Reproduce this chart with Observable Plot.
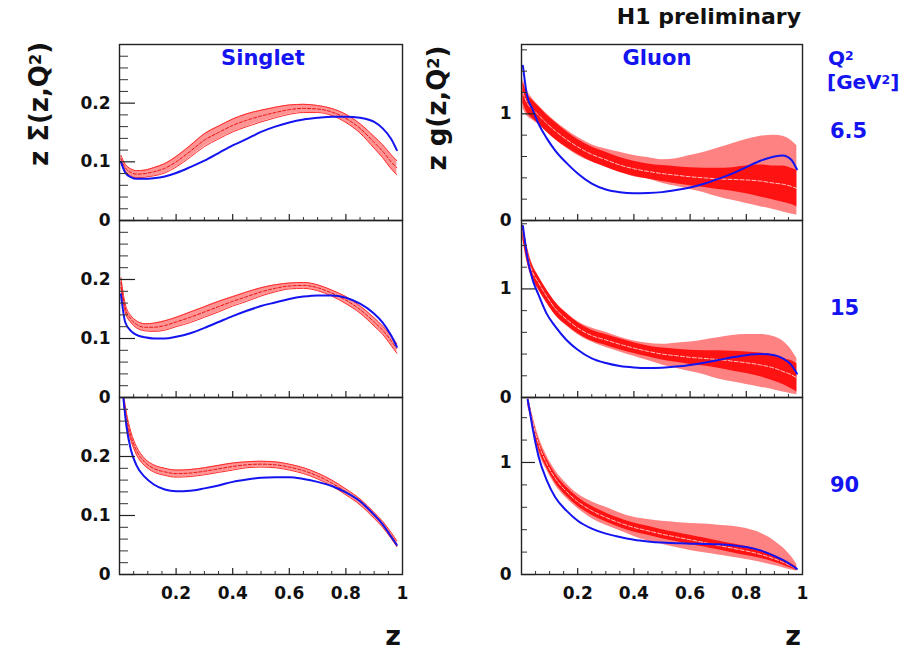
<!DOCTYPE html>
<html><head><meta charset="utf-8">
<script src="https://cdn.jsdelivr.net/npm/d3@7"></script>
<script src="https://cdn.jsdelivr.net/npm/@observablehq/plot@0.6"></script>
<style>
html,body{margin:0;padding:0;background:#fff;}
#wrap{position:relative;width:908px;height:651px;overflow:hidden;font-family:"DejaVu Sans",sans-serif;font-weight:bold;color:#111;}
.t{position:absolute;white-space:nowrap;line-height:1;}
.blue{color:#1414f0;}
.sup{font-size:0.62em;position:relative;top:-0.42em;line-height:0;}
</style></head><body><div id="wrap"></div>
<script>
// ---------- data ----------
const zGrid = [0.005,0.02,0.04,0.06,0.09,0.12,0.16,0.20,0.25,0.30,0.35,0.40,0.45,0.50,0.55,0.60,0.65,0.70,0.75,0.80,0.85,0.90,0.93,0.96,0.98];
const zS90  = [0.014,0.025,0.04,0.06,0.09,0.12,0.16,0.20,0.25,0.30,0.35,0.40,0.45,0.50,0.55,0.60,0.65,0.70,0.75,0.80,0.85,0.90,0.93,0.96,0.98];
const zG90  = [0.022,0.03,0.04,0.06,0.09,0.12,0.16,0.20,0.25,0.30,0.35,0.40,0.45,0.50,0.55,0.60,0.65,0.70,0.75,0.80,0.85,0.90,0.93,0.96,0.98];

// Singlet, Q2 = 6.5
const s65Blue = [0.100,0.082,0.074,0.071,0.071,0.072,0.075,0.081,0.091,0.102,0.115,0.128,0.139,0.151,0.160,0.167,0.172,0.175,0.177,0.177,0.175,0.168,0.157,0.139,0.120];
const s65Red  = [0.105,0.090,0.082,0.079,0.080,0.083,0.089,0.100,0.118,0.137,0.150,0.162,0.171,0.178,0.184,0.189,0.191,0.190,0.185,0.174,0.157,0.133,0.118,0.100,0.090];
const s65Err  = [0.006,0.006,0.006,0.006,0.006,0.007,0.008,0.009,0.010,0.011,0.011,0.011,0.011,0.010,0.009,0.008,0.007,0.006,0.006,0.007,0.008,0.010,0.011,0.012,0.012];
// Singlet, Q2 = 15
const s15Blue = [0.175,0.128,0.113,0.106,0.102,0.100,0.100,0.103,0.109,0.118,0.128,0.138,0.147,0.155,0.161,0.167,0.171,0.173,0.173,0.169,0.159,0.142,0.127,0.105,0.086];
const s15Red  = [0.195,0.152,0.133,0.124,0.119,0.119,0.122,0.128,0.136,0.145,0.154,0.163,0.171,0.179,0.185,0.189,0.190,0.186,0.177,0.165,0.149,0.128,0.114,0.096,0.083];
const s15Err  = [0.008,0.007,0.006,0.006,0.006,0.007,0.008,0.008,0.009,0.009,0.009,0.008,0.008,0.007,0.006,0.005,0.005,0.005,0.005,0.006,0.006,0.007,0.007,0.008,0.008];
// Singlet, Q2 = 90
const s90Blue = [0.298,0.250,0.212,0.185,0.165,0.153,0.144,0.141,0.142,0.146,0.151,0.157,0.161,0.164,0.165,0.165,0.162,0.157,0.150,0.139,0.124,0.101,0.085,0.064,0.050];
const s90Red  = [0.298,0.265,0.235,0.210,0.190,0.180,0.174,0.171,0.172,0.175,0.179,0.183,0.186,0.187,0.186,0.182,0.176,0.167,0.155,0.140,0.123,0.100,0.085,0.066,0.052];
const s90Err  = [0.008,0.008,0.007,0.007,0.006,0.006,0.006,0.006,0.006,0.006,0.006,0.006,0.005,0.005,0.005,0.005,0.005,0.005,0.005,0.005,0.005,0.005,0.005,0.005,0.005];

// Gluon, Q2 = 6.5
const g65Blue  = [1.45,1.17,1.04,0.91,0.77,0.656,0.54,0.44,0.345,0.29,0.265,0.256,0.258,0.266,0.285,0.31,0.345,0.39,0.44,0.50,0.56,0.60,0.61,0.57,0.48];
const g65Red   = [1.20,1.10,1.04,0.99,0.91,0.84,0.76,0.69,0.62,0.57,0.52,0.485,0.46,0.44,0.425,0.41,0.40,0.39,0.385,0.38,0.37,0.35,0.34,0.32,0.30];
const g65Exp   = [0.10,0.09,0.085,0.08,0.08,0.08,0.075,0.07,0.07,0.07,0.07,0.07,0.07,0.075,0.08,0.085,0.09,0.10,0.11,0.13,0.15,0.16,0.17,0.17,0.17];
const g65TotHi = [1.33,1.22,1.14,1.08,1.00,0.93,0.85,0.78,0.71,0.67,0.64,0.61,0.59,0.57,0.58,0.61,0.64,0.68,0.72,0.76,0.79,0.80,0.79,0.75,0.70];
const g65TotLo = [1.05,0.98,0.94,0.90,0.83,0.76,0.68,0.61,0.55,0.50,0.46,0.41,0.39,0.35,0.32,0.29,0.26,0.22,0.19,0.16,0.13,0.10,0.08,0.06,0.05];
// Gluon, Q2 = 15
const g15Blue  = [1.58,1.30,1.08,0.95,0.77,0.655,0.53,0.44,0.36,0.317,0.29,0.277,0.272,0.275,0.285,0.30,0.32,0.345,0.37,0.39,0.40,0.39,0.36,0.30,0.22];
const g15Red   = [1.53,1.32,1.15,1.06,0.93,0.82,0.72,0.64,0.57,0.53,0.49,0.455,0.425,0.40,0.385,0.37,0.36,0.35,0.335,0.32,0.30,0.27,0.24,0.21,0.18];
const g15Exp   = [0.07,0.065,0.06,0.06,0.06,0.06,0.055,0.05,0.05,0.05,0.05,0.05,0.05,0.055,0.06,0.065,0.07,0.08,0.09,0.10,0.11,0.12,0.12,0.13,0.13];
const g15TotHi = [1.60,1.40,1.22,1.12,0.99,0.88,0.78,0.70,0.64,0.60,0.555,0.52,0.50,0.49,0.50,0.51,0.53,0.55,0.57,0.58,0.58,0.56,0.52,0.44,0.36];
const g15TotLo = [1.45,1.24,1.08,0.99,0.87,0.76,0.66,0.58,0.51,0.46,0.42,0.38,0.34,0.30,0.27,0.24,0.21,0.17,0.145,0.12,0.095,0.07,0.05,0.035,0.025];
// Gluon, Q2 = 90
const g90Blue  = [1.56,1.45,1.30,1.06,0.84,0.69,0.57,0.48,0.41,0.365,0.335,0.31,0.295,0.285,0.28,0.275,0.273,0.27,0.262,0.245,0.215,0.165,0.13,0.085,0.05];
const g90Red   = [1.57,1.48,1.36,1.17,0.99,0.86,0.74,0.65,0.57,0.51,0.46,0.42,0.39,0.36,0.335,0.31,0.285,0.26,0.235,0.21,0.18,0.14,0.11,0.075,0.05];
const g90Exp   = [0.04,0.04,0.04,0.04,0.04,0.04,0.04,0.04,0.04,0.04,0.04,0.04,0.04,0.04,0.04,0.04,0.04,0.04,0.04,0.04,0.035,0.03,0.025,0.02,0.015];
const g90TotHi = [1.62,1.52,1.42,1.24,1.06,0.93,0.81,0.72,0.65,0.60,0.55,0.51,0.49,0.475,0.465,0.455,0.45,0.44,0.43,0.41,0.37,0.30,0.24,0.16,0.09];
const g90TotLo = [1.50,1.42,1.30,1.10,0.93,0.80,0.68,0.59,0.50,0.44,0.39,0.34,0.30,0.27,0.24,0.215,0.195,0.175,0.155,0.135,0.11,0.08,0.06,0.04,0.03];

// ticks & labels
const xMajor = [0.2,0.4,0.6,0.8];
const xMinor = [0.05,0.1,0.15,0.25,0.3,0.35,0.45,0.5,0.55,0.65,0.7,0.75,0.85,0.9,0.95];
const xLabels = [0.2,0.4,0.6,0.8,1];
const sYMajor = [0,0.1,0.2];
const sYMinor = [0.02,0.04,0.06,0.08,0.12,0.14,0.16,0.18,0.22,0.24,0.26,0.28];
const gYMajor = [0,1];
const gYMinor = [0.2,0.4,0.6,0.8,1.2,1.4,1.6];
const q2Labels = ["6.5","15","90"];

// ---------- drawing ----------
const wrap = document.getElementById("wrap");
const fmt = d => d === 0 ? "0" : d === 1 ? "1" : String(d);

function singletRows(z, blue, red, err) {
  return z.map((v,i) => ({z: v, blue: blue[i], red: red[i], lo: red[i]-err[i], hi: red[i]+err[i]}));
}
function gluonRows(z, blue, red, exp, hi, lo) {
  return z.map((v,i) => ({z: v, blue: blue[i], red: red[i], elo: red[i]-exp[i], ehi: red[i]+exp[i], tlo: lo[i], thi: hi[i]}));
}

function panel(p) {
  const ml = 60, mr = 12, mt = 12, mb = p.xLabels ? 46 : 14;
  const S = p.kind === "singlet";
  const curve = "monotone-x";
  const majLen = S ? 16 : 14, minLen = S ? 9 : 6;
  const marks = [];
  if (S) {
    marks.push(
      Plot.areaY(p.rows, {x: "z", y1: "lo", y2: "hi", fill: "#ff9494", curve, clip: true}),
      Plot.lineY(p.rows, {x: "z", y: "lo", stroke: "#ff2a2a", strokeWidth: 1, curve, clip: true}),
      Plot.lineY(p.rows, {x: "z", y: "hi", stroke: "#ff2a2a", strokeWidth: 1, curve, clip: true}),
      Plot.lineY(p.rows, {x: "z", y: "red", stroke: "#e81010", strokeWidth: 1, strokeDasharray: "3,2", curve, clip: true})
    );
  } else {
    marks.push(
      Plot.areaY(p.rows, {x: "z", y1: "tlo", y2: "thi", fill: "#ff8282", curve, clip: true}),
      Plot.areaY(p.rows, {x: "z", y1: "elo", y2: "ehi", fill: "#ff1212", curve, clip: true}),
      Plot.lineY(p.rows, {x: "z", y: "red", stroke: "#ffc4c4", strokeWidth: 1, strokeDasharray: "4,2", curve, clip: true})
    );
  }
  marks.push(
    Plot.lineY(p.rows, {x: "z", y: "blue", stroke: "#1414f0", strokeWidth: 2, curve, clip: true}),
    Plot.tickY(p.yMajor, {y: d => d, insetRight: p.fw - majLen, stroke: "#222", strokeWidth: 1.2}),
    Plot.tickY(p.yMinor.filter(d => d < p.yMax), {y: d => d, insetRight: p.fw - minLen, stroke: "#333", strokeWidth: 1}),
    Plot.tickX(xMajor, {x: d => d, insetTop: p.fh - 6, stroke: "#222", strokeWidth: 1.2}),
    Plot.tickX(xMinor, {x: d => d, insetTop: p.fh - 3, stroke: "#333", strokeWidth: 1}),
    Plot.frame({stroke: "#222", strokeWidth: 1.4}),
    Plot.text(p.yMajor, {y: d => d, frameAnchor: "left", textAnchor: "end", dx: S ? -9 : -10, text: fmt, fontSize: 17, fontWeight: "bold", fill: "#111"})
  );
  if (p.xLabels) {
    marks.push(Plot.text(xLabels, {x: d => d, frameAnchor: "bottom", lineAnchor: "top", dy: 12, text: fmt, fontSize: 17, fontWeight: "bold", fill: "#111"}));
  }
  const svg = Plot.plot({
    width: p.fw + ml + mr, height: p.fh + mt + mb,
    marginLeft: ml, marginRight: mr, marginTop: mt, marginBottom: mb,
    x: {domain: [0, 1], axis: null},
    y: {domain: [0, p.yMax], axis: null},
    style: {background: "transparent", overflow: "visible", fontFamily: "DejaVu Sans", fontWeight: "bold", fontSize: "17px", color: "#111"},
    marks
  });
  svg.style.position = "absolute";
  svg.style.left = (p.fx - ml) + "px";
  svg.style.top = (p.fy - mt) + "px";
  wrap.appendChild(svg);
}

const rowsY = [{fy: 44, fh: 176}, {fy: 220, fh: 177}, {fy: 397, fh: 177}];
const singlets = [
  singletRows(zGrid, s65Blue, s65Red, s65Err),
  singletRows(zGrid, s15Blue, s15Red, s15Err),
  singletRows(zS90, s90Blue, s90Red, s90Err)
];
const gluons = [
  gluonRows(zGrid, g65Blue, g65Red, g65Exp, g65TotHi, g65TotLo),
  gluonRows(zGrid, g15Blue, g15Red, g15Exp, g15TotHi, g15TotLo),
  gluonRows(zG90, g90Blue, g90Red, g90Exp, g90TotHi, g90TotLo)
];
const gMax = [1.65, 1.63, 1.58];

rowsY.forEach((r, i) => {
  panel({kind: "singlet", rows: singlets[i], fx: 119, fw: 283, fy: r.fy, fh: r.fh, yMax: 0.3,
         yMajor: sYMajor, yMinor: sYMinor, xLabels: i === 2});
  panel({kind: "gluon", rows: gluons[i], fx: 521, fw: 281, fy: r.fy, fh: r.fh, yMax: gMax[i],
         yMajor: gYMajor, yMinor: gYMinor, xLabels: i === 2});
});

// ---------- text ----------
function addText(html, css, cls) {
  const d = document.createElement("div");
  d.className = "t" + (cls ? " " + cls : "");
  d.innerHTML = html;
  Object.assign(d.style, css);
  wrap.appendChild(d);
  return d;
}
addText("H1 preliminary", {right: "107px", top: "6px", fontSize: "22px"});
addText("Singlet", {left: "263px", top: "48px", fontSize: "21px", transform: "translateX(-50%)"}, "blue");
addText("Gluon", {left: "657px", top: "48px", fontSize: "21px", transform: "translateX(-50%)"}, "blue");
addText('Q<span class="sup">2</span>', {left: "828px", top: "48px", fontSize: "20px"}, "blue");
addText('[GeV<span class="sup">2</span>]', {left: "827px", top: "72px", fontSize: "20px"}, "blue");
const q2Top = [121, 298, 475];
q2Labels.forEach((s, i) => addText(s, {left: "830px", top: q2Top[i] + "px", fontSize: "21px"}, "blue"));
addText("z", {right: (908 - 401) + "px", top: "622px", fontSize: "27px"});
addText("z", {right: (908 - 801) + "px", top: "622px", fontSize: "27px"});
addText('z &Sigma;(z,Q<span class="sup">2</span>)', {left: "39px", top: "104px", fontSize: "26px", transform: "translate(-50%,-50%) rotate(-90deg)"});
addText('z g(z,Q<span class="sup">2</span>)', {left: "437px", top: "108px", fontSize: "26px", transform: "translate(-50%,-50%) rotate(-90deg)"});
</script>
</body></html>
